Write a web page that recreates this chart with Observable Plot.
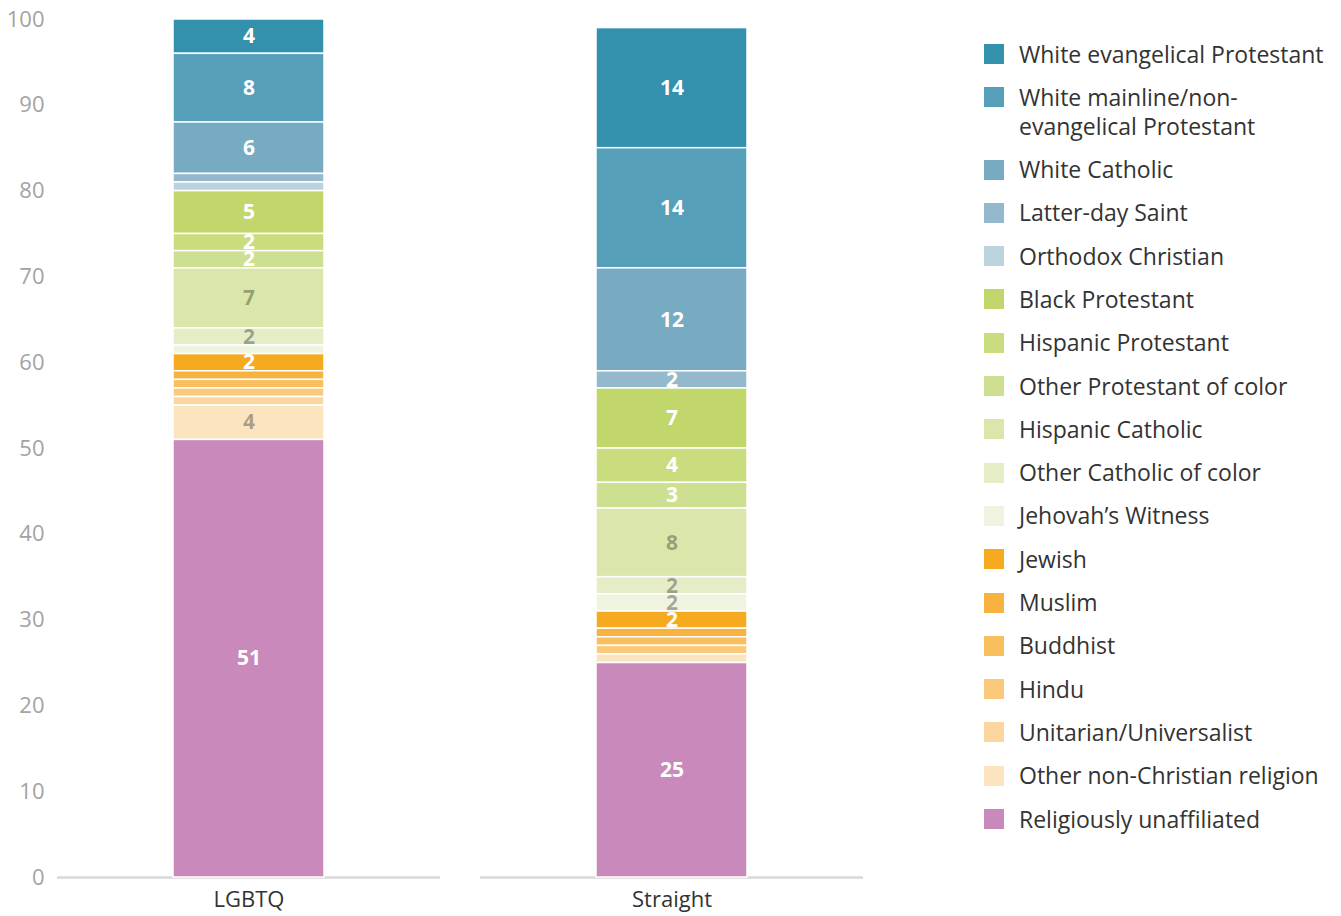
<!DOCTYPE html>
<html>
<head>
<meta charset="utf-8">
<script src="https://cdn.jsdelivr.net/npm/d3@7"></script>
<script src="https://cdn.jsdelivr.net/npm/@observablehq/plot@0.6"></script>
<style>
  html, body { margin: 0; padding: 0; background: #fff; }
  body { width: 1341px; height: 916px; position: relative; font-family: "Open Sans", sans-serif; overflow: hidden; }
  #chart { position: absolute; left: 0; top: 0; }
  #legend { position: absolute; left: 984px; top: 39.5px; }
  .item { position: relative; padding-left: 35px; margin-bottom: 14.3px; font-size: 23px; line-height: 29px; color: #333; white-space: nowrap; }
  .sw { position: absolute; left: 0; top: 4.5px; width: 20px; height: 20px; }
</style>
</head>
<body>
<div id="chart"></div>
<div id="legend"></div>
<script>
const groups = ["LGBTQ", "Straight"];
const religions = [
  "White evangelical Protestant",
  "White mainline/non-evangelical Protestant",
  "White Catholic",
  "Latter-day Saint",
  "Orthodox Christian",
  "Black Protestant",
  "Hispanic Protestant",
  "Other Protestant of color",
  "Hispanic Catholic",
  "Other Catholic of color",
  "Jehovah’s Witness",
  "Jewish",
  "Muslim",
  "Buddhist",
  "Hindu",
  "Unitarian/Universalist",
  "Other non-Christian religion",
  "Religiously unaffiliated"
];
const lgbtqValues =    [4, 8, 6, 1, 1, 5, 2, 2, 7, 2, 1, 2, 1, 1, 1, 1, 4, 51];
const straightValues = [14, 14, 12, 2, 0, 7, 4, 3, 8, 2, 2, 2, 1, 1, 1, 0, 1, 25];
const palette = [
  "#3391ae", "#569fb9", "#76abc2", "#94b9cc", "#bad3df",
  "#c2d76b", "#c9dc7e", "#cde092", "#dbe6aa", "#e4edc6", "#eef4df",
  "#f6aa1f", "#f8b23f", "#f9be5d", "#fbc97c", "#fcd69e", "#fce4c0",
  "#c989bb"
];
const darkLabelGroups = ["Hispanic Catholic", "Other Catholic of color", "Jehovah’s Witness", "Other non-Christian religion"];

const data = [];
groups.forEach((g, gi) => {
  const vals = gi === 0 ? lgbtqValues : straightValues;
  religions.forEach((r, i) => data.push({group: g, religion: r, value: vals[i]}));
});

const stackOrder = religions.slice().reverse();
const stackOpts = {x: "group", y: "value", z: "religion", order: stackOrder};

const chart = Plot.plot({
  width: 870,
  height: 916,
  marginTop: 19,
  marginBottom: 39,
  marginLeft: 57,
  marginRight: 7,
  style: {fontFamily: "Open Sans, sans-serif", background: "white"},
  x: {domain: groups, paddingInner: 0.095, paddingOuter: 0, label: null},
  y: {domain: [0, 100], label: null},
  color: {domain: religions, range: palette},
  marks: [
    Plot.tickY(groups, {x: d => d, y: () => 0, stroke: "#d9d9d9", strokeWidth: 2.5}),
    Plot.barY(data, Plot.stackY({...stackOpts, fill: "religion", stroke: "white", strokeWidth: 1.5, insetLeft: 116, insetRight: 116})),
    Plot.text(data, Plot.stackY({...stackOpts,
      text: d => (d.value >= 2 && !darkLabelGroups.includes(d.religion)) ? String(d.value) : "",
      fill: "white", fontWeight: "bold", fontSize: 21})),
    Plot.text(data, Plot.stackY({...stackOpts,
      text: d => (d.value >= 2 && darkLabelGroups.includes(d.religion)) ? String(d.value) : "",
      fill: "black", fillOpacity: 0.32, fontWeight: "bold", fontSize: 21})),
    Plot.axisY({ticks: d3.range(0, 101, 10), tickSize: 0, tickPadding: 13, fontSize: 22, color: "#a3a3a3", label: null}),
    Plot.axisX({tickSize: 0, tickPadding: 14, fontSize: 22, color: "#333", label: null})
  ]
});
document.getElementById("chart").appendChild(chart);

const legend = document.getElementById("legend");
religions.forEach((r, i) => {
  const item = document.createElement("div");
  item.className = "item";
  const sw = document.createElement("span");
  sw.className = "sw";
  sw.style.background = palette[i];
  item.appendChild(sw);
  const label = document.createElement("span");
  if (r === "White mainline/non-evangelical Protestant") {
    label.innerHTML = "White mainline/non-<br>evangelical Protestant";
  } else {
    label.textContent = r;
  }
  item.appendChild(label);
  legend.appendChild(item);
});
</script>
</body>
</html>
